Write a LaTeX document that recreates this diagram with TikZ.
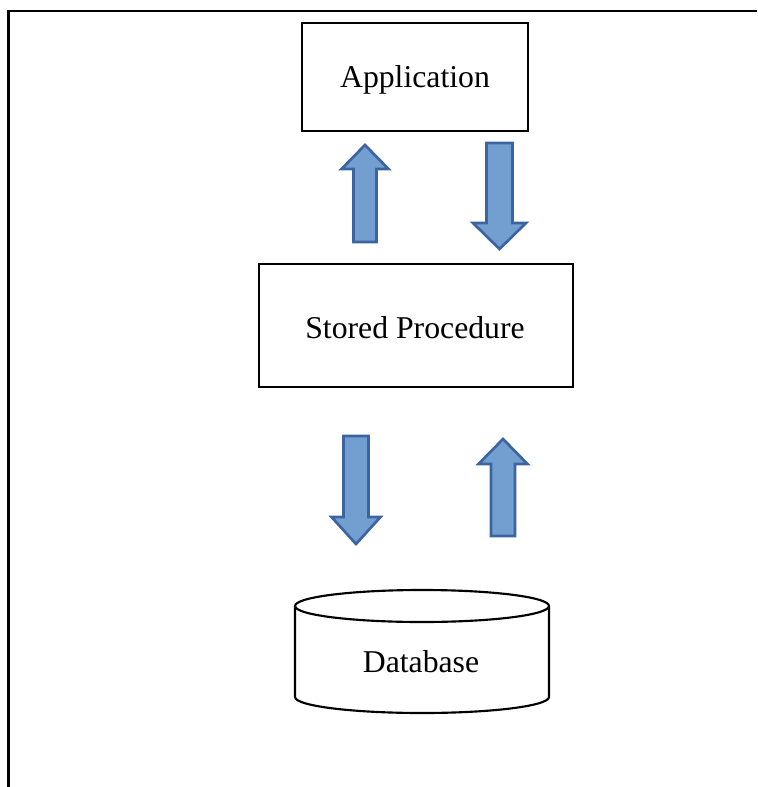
\documentclass[tikz,border=0pt]{standalone}
\usepackage{fontspec}
\setmainfont{Liberation Serif}
\definecolor{arrowfill}{RGB}{114,159,208}
\definecolor{arrowline}{RGB}{60,100,160}
\tikzset{
  px/.style={x=0.75pt,y=-0.75pt},
  box/.style={draw=black,line width=1.6pt,fill=white,inner sep=0pt},
  lbl/.style={inner sep=0pt,font=\fontsize{23.8pt}{28pt}\selectfont},
  blockarrow/.style={draw=arrowline,fill=arrowfill,line width=2pt,line join=miter},
  frame/.style={draw=black,line width=1.9pt}
}
% block arrow: #1 = x centre, #2 = tail y, #3 = head base y, #4 = tip y, #5 = half shaft, #6 = half head
\newcommand{\blockarr}[6]{%
  \path[blockarrow] (#1-#5,#2) -- (#1-#5,#3) -- (#1-#6,#3) -- (#1,#4) -- (#1+#6,#3) -- (#1+#5,#3) -- (#1+#5,#2) -- cycle;}
\begin{document}
\begin{tikzpicture}[px]
\useasboundingbox (0,0) rectangle (757,787);
% outer frame: left and top edges only
\draw[frame] (8.5,787) -- (8.5,11) -- (757,11);
% boxes
\node[box,minimum width=226*0.75pt,minimum height=108*0.75pt] (app) at (415,77) {};
\node[lbl] (applbl) at (415,80) {Application};
\node[box,minimum width=314*0.75pt,minimum height=123*0.75pt] (sp) at (416,325.5) {};
\node[lbl] (splbl) at (415,328) {Stored Procedure};
% database cylinder
\coordinate (dbtop) at (422,606);
\draw[line width=1.6pt,fill=white] (295,606) -- (295,697) arc[start angle=180,end angle=0,x radius=127,y radius=16] -- (549,606);
\draw[line width=1.6pt] (dbtop) ellipse[x radius=127,y radius=16];
\node[lbl] (db) at (421,662) {Database};
% arrows between application and stored procedure
\blockarr{365}{242}{169}{145}{11.5}{23.5}
\blockarr{499.5}{143}{223}{249}{13}{26.5}
% arrows between stored procedure and database
\blockarr{356}{436}{517}{544}{12.5}{24.5}
\blockarr{503}{536}{464}{439}{12}{24.5}
\end{tikzpicture}
\end{document}
